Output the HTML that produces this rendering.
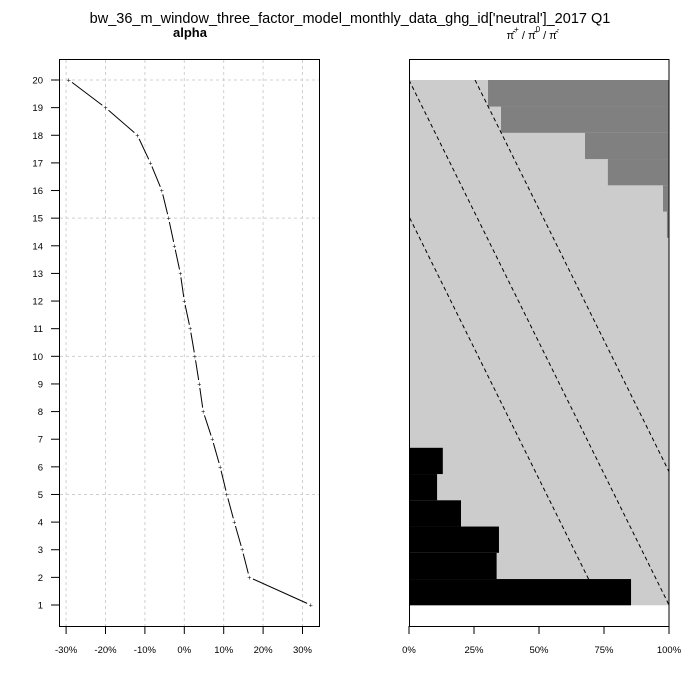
<!DOCTYPE html>
<html><head><meta charset="utf-8"><style>
body{margin:0;background:#fff}
svg{display:block;font-family:"Liberation Sans",Arial,sans-serif}
</style></head><body>
<svg id="c" width="700" height="700" viewBox="0 0 700 700">
<text x="350" y="23" font-size="14.5" text-anchor="middle">bw_36_m_window_three_factor_model_monthly_data_ghg_id['neutral']_2017 Q1</text>
<text x="190" y="37" font-size="13" font-weight="bold" text-anchor="middle">alpha</text>
<text x="533" y="39" font-size="11" text-anchor="middle">π̂<tspan font-size="8" dy="-7">+</tspan><tspan dy="7"> / π̂</tspan><tspan font-size="8" dy="-7">0</tspan><tspan dy="7"> / π̂</tspan><tspan font-size="8" dy="-7">-</tspan></text>
<g id="left"></g>
<g id="right"></g>
</svg>
<script>
const rows=[1,2,3,4,5,6,7,8,9,10,11,12,13,14,15,16,17,18,19,20];
const alphaVals=[32.1,16.5,14.7,12.7,10.8,9.1,7.1,4.8,3.8,2.7,1.5,0,-1.0,-2.5,-4.0,-5.7,-8.6,-11.9,-20.0,-29.3];
const xTicks=[-30,-20,-10,0,10,20,30];
const pctTicks=[0,25,50,75,100];
const posVals=[85.4,33.7,34.6,20,10.8,13,0,0,0,0,0,0,0,0,0,0,0,0,0,0];
const negVals=[0,0,0,0,0,0,0,0,0,0,0,0,0,0,0.8,2.3,23.5,32.3,64.6,69.6];
const refLineIntercepts=[-26,0,25.4];

const NS="http://www.w3.org/2000/svg";
function mk(p,t,a){const e=document.createElementNS(NS,t);for(const k in a)e.setAttribute(k,a[k]);p.appendChild(e);return e;}
// left
const L=document.getElementById('left');
const lx=v=>184.3+v*3.94, ly=r=>605-(r-1)*(525/19);
for(const t of xTicks){const g=mk(L,'line',{x1:lx(t),x2:lx(t),y1:60,y2:626,stroke:'#d0d0d0','stroke-dasharray':'3,3'});}
for(const r of [5,10,15,20]){const g=mk(L,'line',{x1:60,x2:319,y1:ly(r),y2:ly(r),stroke:'#d0d0d0','stroke-dasharray':'3,3'});}
const lb=mk(L,'rect',{x:59.5,y:59.5,width:260,height:567,fill:'none',stroke:'#000'});

for(const r of rows){mk(L,'line',{x1:51,x2:59.5,y1:ly(r),y2:ly(r),stroke:'#000'});
const t=mk(L,'text',{x:43,y:ly(r)+3.5,'font-size':9.5,'text-anchor':'end'});t.textContent=r;
}
for(const v of xTicks){mk(L,'line',{x1:lx(v),x2:lx(v),y1:626,y2:634,stroke:'#000'});
const t=mk(L,'text',{x:lx(v),y:653,'font-size':9.5,'text-anchor':'middle'});t.textContent=v+'%';
}
for(let i=0;i<rows.length;i++){
 const x=lx(alphaVals[i]),y=ly(rows[i]);
 const p=mk(L,'text',{x:x,y:y+2.5,'font-size':7,'text-anchor':'middle'});p.textContent='+';
 
 if(i<rows.length-1){const x2=lx(alphaVals[i+1]),y2=ly(rows[i+1]);const dx=x2-x,dy=y2-y,d=Math.hypot(dx,dy),g=4/d;
  const s=mk(L,'line',{x1:x+dx*g,y1:y+dy*g,x2:x2-dx*g,y2:y2-dy*g,stroke:'#000','stroke-width':1});
  }
}
// right
const R=document.getElementById('right');
const rx=v=>409+v*2.6, rh=525/20, ry=r=>605-r*rh;
for(let i=0;i<rows.length;i++){
 const y=ry(rows[i]);
 const b=mk(R,'rect',{x:rx(0),y:y,width:260,height:rh+0.3,fill:'#cccccc'});
 if(posVals[i]>0){const p=mk(R,'rect',{x:rx(0),y:y,width:posVals[i]*2.6,height:rh+0.3,fill:'#000'});}
 if(negVals[i]>0){const n=mk(R,'rect',{x:rx(100-negVals[i]),y:y,width:negVals[i]*2.6,height:rh+0.3,fill:'#808080'});}
}
const cp=mk(R,'clipPath',{id:'rc'});mk(cp,'rect',{x:409,y:80,width:260,height:525});
for(const c of refLineIntercepts){
 const l=mk(R,'line',{x1:rx(c),y1:80,x2:rx(c+100),y2:605,stroke:'#000','stroke-dasharray':'4,3','clip-path':'url(#rc)'});
 
}
const rb=mk(R,'rect',{x:409.5,y:59.5,width:259.5,height:567,fill:'none',stroke:'#000'});

for(const v of pctTicks){mk(R,'line',{x1:rx(v),x2:rx(v),y1:626,y2:634,stroke:'#000'});
const t=mk(R,'text',{x:rx(v),y:653,'font-size':9.5,'text-anchor':'middle'});t.textContent=v+'%';
}
</script>
</body></html>
